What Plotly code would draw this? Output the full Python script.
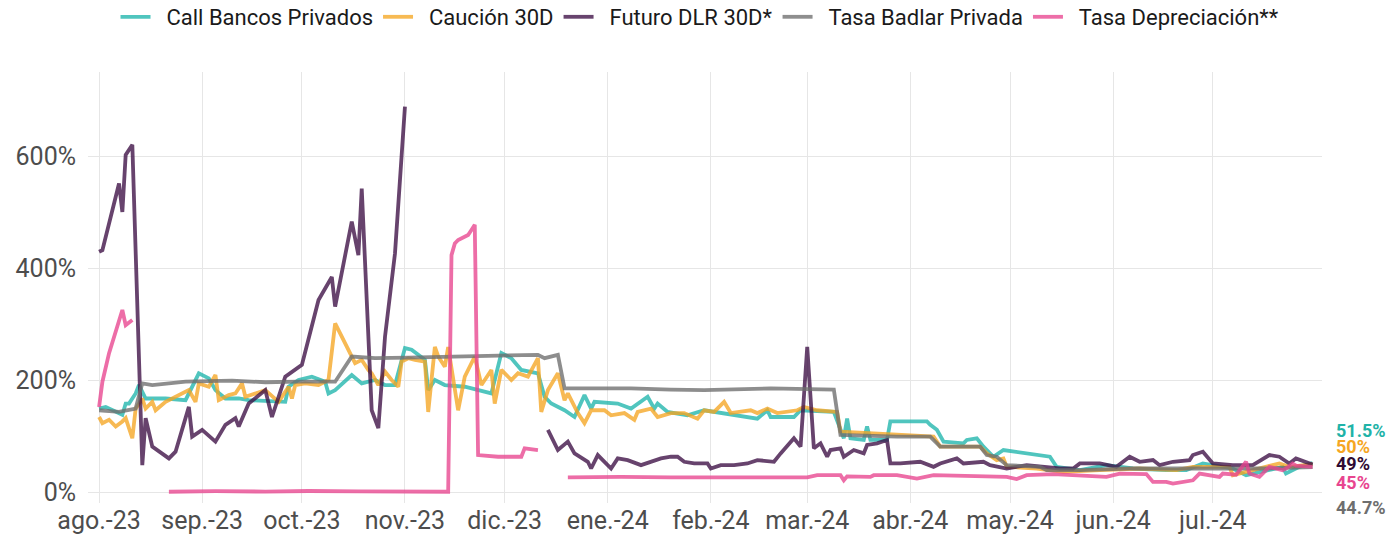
import plotly.graph_objects as go

# ---------------- data ----------------
call_dates = ["2023-08-01","2023-08-03","2023-08-08","2023-08-09","2023-08-10","2023-08-12","2023-08-13","2023-08-15",
              "2023-08-21","2023-08-27","2023-08-31","2023-09-03","2023-09-05","2023-09-08","2023-09-12","2023-09-15",
              "2023-09-26","2023-09-27","2023-09-30","2023-10-04","2023-10-08","2023-10-09","2023-10-11","2023-10-16",
              "2023-10-19","2023-10-23","2023-10-26","2023-10-29","2023-11-01","2023-11-03","2023-11-07","2023-11-08",
              "2023-11-10","2023-11-13","2023-11-19","2023-11-23","2023-11-27","2023-11-30","2023-12-03","2023-12-06",
              "2023-12-11","2023-12-13","2023-12-15","2023-12-19","2023-12-22","2023-12-25","2023-12-27","2023-12-28",
              "2024-01-04","2024-01-08","2024-01-13","2024-01-15","2024-01-16","2024-01-19","2024-01-25","2024-01-30",
              "2024-02-09","2024-02-15","2024-02-18","2024-02-19","2024-02-26","2024-02-28","2024-03-09","2024-03-12",
              "2024-03-13","2024-03-14","2024-03-18","2024-03-19","2024-03-20","2024-03-25","2024-03-26","2024-04-06",
              "2024-04-07","2024-04-09","2024-04-11","2024-04-17","2024-04-18","2024-04-21","2024-04-23","2024-04-26",
              "2024-04-29","2024-05-09","2024-05-13","2024-05-15","2024-05-22","2024-05-30","2024-06-07","2024-06-17",
              "2024-06-23","2024-06-28","2024-07-07","2024-07-11","2024-07-15","2024-07-22","2024-07-23","2024-07-27",
              "2024-07-31"]
call_vals = [149,152,138,158,158,176,191,167,
             167,164,212,203,182,167,167,164,
             161,188,200,206,197,176,182,209,
             194,200,191,191,257,254,236,182,
             200,191,188,182,176,248,239,218,
             212,170,158,146,134,173,149,161,
             158,149,170,149,158,143,137,146,
             137,131,146,134,134,146,143,96,
             131,96,93,117,93,93,126,126,
             120,111,90,87,93,96,81,63,
             75,66,63,45,39,48,42,39,
             39,51,42,30,36,45,33,45,
             51.5]

caucion_dates = ["2023-08-01","2023-08-02","2023-08-04","2023-08-06","2023-08-08","2023-08-09","2023-08-11","2023-08-12",
                 "2023-08-14","2023-08-15","2023-08-17","2023-08-18","2023-08-21","2023-08-25","2023-08-28","2023-08-30",
                 "2023-08-31","2023-09-03","2023-09-05","2023-09-06","2023-09-09","2023-09-11","2023-09-13","2023-09-14",
                 "2023-09-17","2023-09-20","2023-09-24","2023-09-27","2023-09-28","2023-09-29","2023-10-02","2023-10-06",
                 "2023-10-09","2023-10-11","2023-10-17","2023-10-19","2023-10-21","2023-10-22","2023-10-24","2023-10-26",
                 "2023-10-28","2023-10-30","2023-10-31","2023-11-02","2023-11-04","2023-11-07","2023-11-08","2023-11-10",
                 "2023-11-11","2023-11-13","2023-11-14","2023-11-17","2023-11-19","2023-11-22","2023-11-24","2023-11-27",
                 "2023-11-28","2023-11-30","2023-12-03","2023-12-05","2023-12-08","2023-12-11","2023-12-12","2023-12-14",
                 "2023-12-17","2023-12-19","2023-12-20","2023-12-21","2023-12-23","2023-12-25","2023-12-27","2023-12-31",
                 "2024-01-02","2024-01-06","2024-01-09","2024-01-10","2024-01-14","2024-01-16","2024-01-20","2024-01-24",
                 "2024-01-28","2024-01-30","2024-02-02","2024-02-05","2024-02-07","2024-02-13","2024-02-15","2024-02-18",
                 "2024-02-21","2024-02-27","2024-02-29","2024-03-04","2024-03-10","2024-03-11","2024-03-20","2024-03-28",
                 "2024-04-08","2024-04-10","2024-04-22","2024-04-24","2024-04-27","2024-04-29","2024-04-30","2024-05-09",
                 "2024-05-17","2024-05-28","2024-06-09","2024-06-20","2024-06-25","2024-07-06","2024-07-07","2024-07-13",
                 "2024-07-21","2024-07-24","2024-07-31"]
caucion_vals = [134,123,129,117,126,132,96,149,
                167,149,161,146,161,173,182,161,
                194,188,209,164,173,176,194,170,
                176,182,161,188,167,191,194,191,
                200,301,230,236,218,212,191,215,
                200,188,233,239,236,233,143,259,
                242,224,259,146,206,242,191,218,
                158,218,200,212,206,239,143,182,
                212,164,176,164,141,123,146,146,
                137,141,129,143,149,134,141,141,
                131,146,143,161,141,146,141,149,
                141,146,152,146,143,108,105,102,
                99,81,81,69,57,60,45,42,
                36,39,42,39,45,45,30,39,
                51,45,50]

futuro_dates = ["2023-08-01","2023-08-02","2023-08-07","2023-08-08","2023-08-09","2023-08-11","2023-08-14","2023-08-15",
                "2023-08-17","2023-08-22","2023-08-24","2023-08-28","2023-08-29","2023-09-01","2023-09-05","2023-09-08",
                "2023-09-11","2023-09-12","2023-09-15","2023-09-20","2023-09-22","2023-09-26","2023-10-01","2023-10-05",
                "2023-10-06","2023-10-10","2023-10-11","2023-10-16","2023-10-18","2023-10-19","2023-10-22","2023-10-24",
                "2023-10-26","2023-10-29","2023-11-01","2023-11-20",
                "2023-12-14","2023-12-17","2023-12-20","2023-12-22","2023-12-26","2023-12-27","2023-12-29","2024-01-02",
                "2024-01-04","2024-01-07","2024-01-11","2024-01-16","2024-01-17","2024-01-20","2024-01-22","2024-01-24",
                "2024-01-27","2024-01-31","2024-02-01","2024-02-04","2024-02-08","2024-02-12","2024-02-15","2024-02-20",
                "2024-02-22","2024-02-26","2024-02-28","2024-03-01","2024-03-03","2024-03-05","2024-03-07","2024-03-08",
                "2024-03-11","2024-03-12","2024-03-15","2024-03-18","2024-03-19","2024-03-22","2024-03-25","2024-03-26",
                "2024-03-29","2024-04-04","2024-04-08","2024-04-10","2024-04-15","2024-04-17","2024-04-23","2024-04-25",
                "2024-04-30","2024-05-06","2024-05-12","2024-05-16","2024-05-20","2024-05-22","2024-05-28","2024-06-02",
                "2024-06-06","2024-06-09","2024-06-13","2024-06-15","2024-06-19","2024-06-24","2024-06-25","2024-06-28",
                "2024-07-01","2024-07-07","2024-07-13","2024-07-18","2024-07-21","2024-07-24","2024-07-26","2024-07-31"]
futuro_vals = [429,432,551,500,602,620,48,132,
               81,60,72,152,99,111,90,120,
               132,117,158,182,134,206,227,319,
               343,384,331,483,423,542,146,114,
               277,426,688,None,
               111,75,90,69,54,42,66,42,
               60,57,48,57,60,63,63,54,
               51,51,42,48,48,51,57,54,
               69,96,81,259,78,87,63,75,
               78,63,75,69,84,87,93,51,
               51,54,45,51,60,51,54,48,
               42,48,45,42,42,51,51,45,
               63,54,57,48,54,57,66,72,
               51,48,48,66,63,51,60,49]

badlar_dates = ["2023-08-01","2023-08-07","2023-08-12","2023-08-14","2023-08-17","2023-08-27","2023-09-10","2023-09-20",
                "2023-09-30","2023-10-11","2023-10-16","2023-10-23","2023-11-02","2023-11-15","2023-12-01","2023-12-11",
                "2023-12-13","2023-12-17","2023-12-19","2024-01-08","2024-01-20","2024-01-30","2024-02-19","2024-03-01",
                "2024-03-09","2024-03-11","2024-03-28","2024-04-07","2024-04-10","2024-04-22","2024-04-24","2024-04-27",
                "2024-04-30","2024-05-10","2024-05-12","2024-05-22","2024-06-06","2024-06-27","2024-07-17","2024-07-31"]
badlar_vals = [146,143,149,194,191,197,199,196,
               197,197,242,239,240,242,245,245,
               239,245,185,185,183,182,185,184,
               183,102,99,99,81,81,66,63,
               48,45,39,39,42,42,42,44.7]

dep_dates = ["2023-08-01","2023-08-02","2023-08-04","2023-08-08","2023-08-09","2023-08-11","2023-08-16",
             "2023-08-22","2023-09-05","2023-09-20","2023-10-03","2023-10-18","2023-11-01","2023-11-14","2023-11-15",
             "2023-11-16","2023-11-17","2023-11-20","2023-11-21","2023-11-22","2023-11-23","2023-11-29","2023-12-06",
             "2023-12-07","2023-12-11","2023-12-15",
             "2023-12-20","2024-01-05","2024-01-20","2024-02-05","2024-02-20","2024-03-01","2024-03-04","2024-03-11",
             "2024-03-12","2024-03-13","2024-03-20","2024-03-21","2024-03-28","2024-04-03","2024-04-08","2024-04-30",
             "2024-05-03","2024-05-06","2024-05-14","2024-05-22","2024-05-30","2024-06-03","2024-06-11","2024-06-13",
             "2024-06-17","2024-06-19","2024-06-25","2024-06-27","2024-07-03","2024-07-04","2024-07-08","2024-07-11",
             "2024-07-12","2024-07-15","2024-07-18","2024-07-22","2024-07-23","2024-07-25","2024-07-26","2024-07-31"]
dep_vals = [152,197,248,325,298,307,None,
            0.5,1.5,0.8,1.8,1.0,1.2,0.5,423,
            444,450,459,468,477,66,63,63,
            78,75,None,
            26,27,26,26,25,26,30,30,
            21,28,27,30,30,24,30,27,
            23,30,32,30,27,33,32,18,
            18,15,21,33,27,33,31,54,
            33,27,45,39,42,51,47,45]

month_ticks = ["2023-08-01","2023-09-01","2023-10-01","2023-11-01","2023-12-01","2024-01-01",
               "2024-02-01","2024-03-01","2024-04-01","2024-05-01","2024-06-01","2024-07-01"]
month_labels = ["ago.-23","sep.-23","oct.-23","nov.-23","dic.-23","ene.-24",
                "feb.-24","mar.-24","abr.-24","may.-24","jun.-24","jul.-24"]
y_ticks = [0, 200, 400, 600]
y_labels = ["0%", "200%", "400%", "600%"]

end_labels = ["51.5%", "50%", "49%", "45%", "44.7%"]
end_label_colors = ["#1FB3A8", "#F5A623", "#2E0A33", "#E8458F", "#6E6E6E"]
end_label_pos = [0.169, 0.130, 0.0905, 0.0487, -0.0116]

series = [
    ("Call Bancos Privados", call_dates, call_vals, "#1FB5AC"),
    ("Caución 30D", caucion_dates, caucion_vals, "#F5A623"),
    ("Futuro DLR 30D*", futuro_dates, futuro_vals, "#3D0F45"),
    ("Tasa Badlar Privada", badlar_dates, badlar_vals, "#6E6E6E"),
    ("Tasa Depreciación**", dep_dates, dep_vals, "#E8458F"),
]

# ---------------- figure ----------------
fig = go.Figure()
for name, xs, ys, col in series:
    fig.add_trace(go.Scatter(
        x=xs, y=ys, name="\u00a0\u00a0" + name, mode="lines",
        line=dict(color=col, width=3.8),
        opacity=0.78, connectgaps=False,
    ))

for txt, col, yp in zip(end_labels, end_label_colors, end_label_pos):
    fig.add_annotation(
        text=f"<b>{txt}</b>", xref="paper", yref="paper",
        x=1.0097, y=yp, xanchor="left", yanchor="middle",
        showarrow=False, font=dict(family="Roboto", size=18, color=col),
    )

fig.update_layout(
    width=1387, height=538,
    margin=dict(l=88, r=65, t=72, b=35, autoexpand=False),
    paper_bgcolor="white", plot_bgcolor="white",
    font=dict(family="Roboto", color="#4D4D4D"),
    showlegend=True,
    legend=dict(
        orientation="h", xref="container", yref="container",
        x=0.5047, xanchor="center", y=1 - 17 / 538, yanchor="middle",
        font=dict(family="Roboto", size=22, color="#1A1A1A"),
        itemwidth=30, bgcolor="rgba(0,0,0,0)",
    ),
    xaxis=dict(
        type="date", automargin=False,
        range=["2023-07-28 16:00", "2024-08-02 20:00"],
        tickvals=month_ticks, ticktext=month_labels,
        showgrid=True, gridcolor="#E6E6E6", gridwidth=1,
        zeroline=False, showline=False, ticks="",
        tickfont=dict(family="Roboto", size=25, color="#4D4D4D"),
    ),
    yaxis=dict(
        automargin=False,
        range=[-19.6, 750],
        tickvals=y_ticks, ticktext=y_labels,
        showgrid=True, gridcolor="#E6E6E6", gridwidth=1,
        zeroline=False, showline=False, ticks="",
        tickfont=dict(family="Roboto", size=25, color="#4D4D4D"),
        ticklabelstandoff=11,
    ),
)

fig.write_html("out.html", config={"displayModeBar": False},
               post_script="document.body.style.margin='0';")
